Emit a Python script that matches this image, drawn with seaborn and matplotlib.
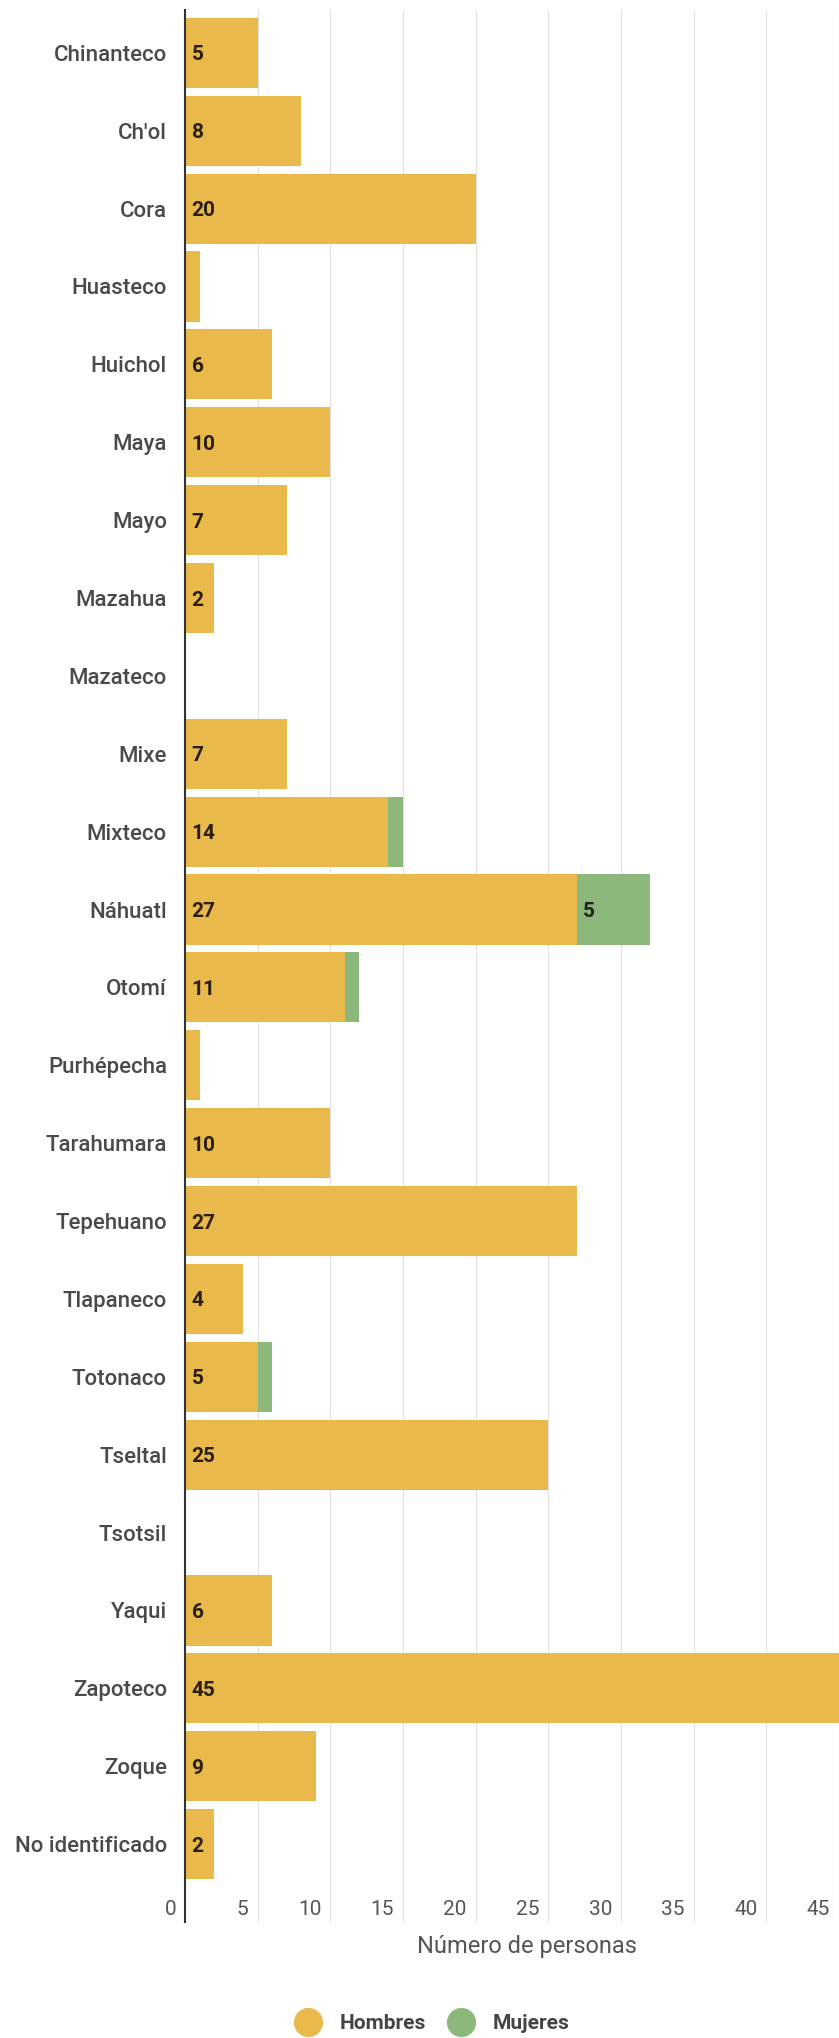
import numpy as np
import pandas as pd
import seaborn as sns
import matplotlib as mpl
import matplotlib.pyplot as plt
from matplotlib.lines import Line2D
from matplotlib.transforms import ScaledTranslation

mpl.use('Agg')

# datos
grupos = ['Chinanteco', "Ch'ol", 'Cora', 'Huasteco', 'Huichol', 'Maya', 'Mayo',
          'Mazahua', 'Mazateco', 'Mixe', 'Mixteco', 'Náhuatl', 'Otomí',
          'Purhépecha', 'Tarahumara', 'Tepehuano', 'Tlapaneco', 'Totonaco',
          'Tseltal', 'Tsotsil', 'Yaqui', 'Zapoteco', 'Zoque', 'No identificado']
hombres = [5, 8, 20, 1, 6, 10, 7, 2, 0, 7, 14, 27, 11, 1, 10, 27, 4, 5, 25, 0, 6, 45, 9, 2]
mujeres = [0, 0, 0, 0, 0, 0, 0, 0, 0, 0, 1, 5, 1, 0, 0, 0, 0, 1, 0, 0, 0, 0, 0, 0]
ticks = [0, 5, 10, 15, 20, 25, 30, 35, 40, 45]

amarillo = '#EAB94B'
verde = '#8DB87B'

sns.set_style('white')
plt.rcParams['font.family'] = ['Roboto', 'DejaVu Sans']

df = pd.DataFrame({'grupo': grupos, 'hombres': hombres, 'mujeres': mujeres})
df['total'] = df['hombres'] + df['mujeres']

fig = plt.figure(figsize=(8.39, 20.38), dpi=100)
ax = fig.add_axes([185 / 839, 1 - 1922 / 2038, 1 - 185 / 839, (1922 - 10) / 2038])

# total (verde) debajo, hombres (amarillo) encima
sns.barplot(data=df, y='grupo', x='total', order=grupos, color=verde,
            saturation=1, width=0.9, errorbar=None, linewidth=0, ax=ax)
sns.barplot(data=df, y='grupo', x='hombres', order=grupos, color=amarillo,
            saturation=1, width=0.9, errorbar=None, linewidth=0, ax=ax)

for i, (h, m) in enumerate(zip(hombres, mujeres)):
    if h >= 2:
        ax.text(0.45, i, str(h), ha='left', va='center_baseline', fontsize=15,
                fontweight='bold', color='#2a1f0c')
    if m >= 2:
        ax.text(h + 0.35, i, str(m), ha='left', va='center_baseline', fontsize=15,
                fontweight='bold', color='#1f2418')

ax.set_xlim(0, 45)
ax.set_ylim(24.0, -0.55)
ax.set_xticks(ticks)
ax.set_xlabel('')
ax.set_ylabel('')
ax.grid(axis='x', color='#e0e0e0', lw=0.8)
ax.set_axisbelow(True)
for s in ['top', 'right', 'bottom']:
    ax.spines[s].set_visible(False)
ax.spines['left'].set_color('#333333')
ax.spines['left'].set_linewidth(1.5)
ax.spines['left'].set_zorder(5)

ax.tick_params(axis='y', length=0, pad=13, labelsize=16, labelcolor='#4a4a4a')
for lab in ax.get_yticklabels():
    lab.set_fontweight('medium')
ax.tick_params(axis='x', length=0, pad=0, labelsize=15, labelcolor='#555555')
offset = ScaledTranslation(-0.09, 0.22, fig.dpi_scale_trans)
for lab in ax.get_xticklabels():
    lab.set_ha('right')
    lab.set_transform(lab.get_transform() + offset)

fig.text(527 / 839, 1 - 1947 / 2038, 'Número de personas', ha='center', va='center',
         fontsize=17, color='#555555')

handles = [Line2D([], [], marker='o', ls='', markersize=20, color=amarillo),
           Line2D([], [], marker='o', ls='', markersize=20, color=verde)]
fig.legend(handles, ['Hombres', 'Mujeres'], loc='center', bbox_to_anchor=(0.515, 0.0069),
           ncol=2, frameon=False, prop={'size': 15, 'weight': 'bold'},
           handlelength=1.3, handletextpad=0.9, columnspacing=1.0, labelcolor='#444444')

fig.savefig('out.png', dpi=100)
